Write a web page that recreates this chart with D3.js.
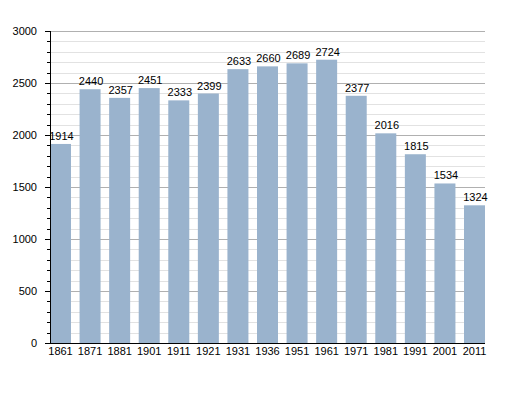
<!DOCTYPE html>
<html>
<head>
<meta charset="utf-8">
<script src="https://cdn.jsdelivr.net/npm/d3@7"></script>
<style>
body { margin: 0; background: #fff; }
text { font-family: "Liberation Sans", Arial, sans-serif; }
</style>
</head>
<body>
<div id="chart"></div>
<script>
var years = ["1861", "1871", "1881", "1901", "1911", "1921", "1931", "1936", "1951", "1961", "1971", "1981", "1991", "2001", "2011"];
var population = [1914, 2440, 2357, 2451, 2333, 2399, 2633, 2660, 2689, 2724, 2377, 2016, 1815, 1534, 1324];
var yTicks = [0, 500, 1000, 1500, 2000, 2500, 3000];

var width = 515, height = 393;
var margin = { top: 31, left: 50, right: 30, bottom: 50 };

var svg = d3.select('#chart')
  .append('svg')
  .attr('width', width)
  .attr('height', height);

var x = d3.scaleBand()
  .domain(years)
  .range([margin.left, width - margin.right])
  .paddingInner(0.29)
  .paddingOuter(0);

var y = d3.scaleLinear()
  .domain([0, 3000])
  .range([height - margin.bottom, margin.top]);

// minor grid every 100
var minor = d3.range(100, 3000, 100).filter(function(d) { return d % 500 !== 0; });
svg.append('g')
  .selectAll('line')
  .data(minor)
  .enter()
  .append('line')
  .attr('x1', margin.left)
  .attr('x2', width - margin.right)
  .attr('y1', function(d) { return Math.round(y(d)) + 0.5; })
  .attr('y2', function(d) { return Math.round(y(d)) + 0.5; })
  .style('stroke', '#e2e2e2')
  .style('stroke-width', 1);

svg.append('g')
  .selectAll('line')
  .data(yTicks.filter(function(d) { return d > 0; }))
  .enter()
  .append('line')
  .attr('x1', margin.left)
  .attr('x2', width - margin.right)
  .attr('y1', function(d) { return Math.round(y(d)) + 0.5; })
  .attr('y2', function(d) { return Math.round(y(d)) + 0.5; })
  .style('stroke', '#b0b0b0')
  .style('stroke-width', 1);

// bars
svg.append('g')
  .selectAll('rect')
  .data(population)
  .enter()
  .append('rect')
  .attr('x', function(d, i) { return x(years[i]); })
  .attr('y', function(d) { return y(d); })
  .attr('width', x.bandwidth())
  .attr('height', function(d) { return y(0) - y(d); })
  .style('fill', '#9ab3cd');

// value labels
svg.append('g')
  .selectAll('text')
  .data(population)
  .enter()
  .append('text')
  .attr('x', function(d, i) { return x(years[i]) + x.bandwidth() / 2 + 1; })
  .attr('y', function(d) { return y(d) - 4; })
  .attr('text-anchor', 'middle')
  .style('font-size', '11px')
  .style('fill', '#000')
  .text(function(d) { return d; });

// y axis with minor ticks
var yAxis = svg.append('g')
  .attr('transform', 'translate(' + margin.left + ',0)');

yAxis.selectAll('line.minor')
  .data(minor)
  .enter()
  .append('line')
  .attr('class', 'minor')
  .attr('x1', -3)
  .attr('x2', 0)
  .attr('y1', function(d) { return Math.round(y(d)) + 0.5; })
  .attr('y2', function(d) { return Math.round(y(d)) + 0.5; })
  .style('stroke', '#000');

yAxis.call(d3.axisLeft(y).tickValues(yTicks).tickSize(5).tickPadding(8).tickFormat(d3.format('d')));
yAxis.select('.domain').attr('d', 'M0.5,' + y(3000) + 'V' + (y(0) + 0.5));
yAxis.selectAll('.tick text').style('font-size', '11px').style('font-family', '"Liberation Sans", Arial, sans-serif').attr('dy', '0.35em');

// x axis
var xAxis = svg.append('g')
  .attr('transform', 'translate(0,' + (y(0) + 0.5) + ')');
xAxis.call(d3.axisBottom(x).tickSize(0).tickPadding(4));
xAxis.select('.domain').attr('d', 'M' + margin.left + ',0H' + (width - margin.right));
xAxis.selectAll('.tick text').style('font-size', '11px').style('font-family', '"Liberation Sans", Arial, sans-serif');
</script>
</body>
</html>
